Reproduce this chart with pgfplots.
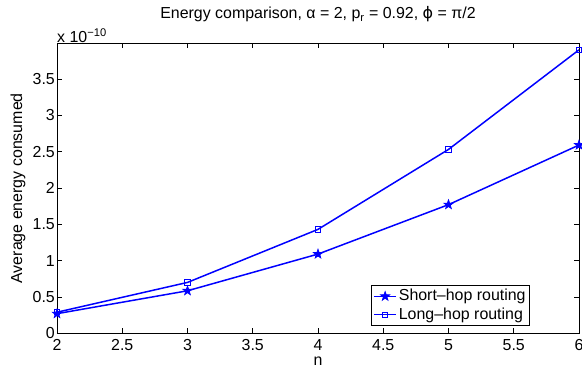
\documentclass[border=0pt]{standalone}
\usepackage{pgfplots}
\pgfplotsset{compat=1.18}
\usepackage{fontspec}
\setmainfont{Liberation Sans}
\newfontfamily\dejavu{DejaVu Sans}
\definecolor{mblue}{RGB}{0,0,255}
\pgfdeclareplotmark{fstar}{%
  \pgfpathmoveto{\pgfpointpolar{90}{\pgfplotmarksize}}%
  \pgfpathlineto{\pgfpointpolar{126}{0.4\pgfplotmarksize}}%
  \pgfpathlineto{\pgfpointpolar{162}{\pgfplotmarksize}}%
  \pgfpathlineto{\pgfpointpolar{198}{0.4\pgfplotmarksize}}%
  \pgfpathlineto{\pgfpointpolar{234}{\pgfplotmarksize}}%
  \pgfpathlineto{\pgfpointpolar{270}{0.4\pgfplotmarksize}}%
  \pgfpathlineto{\pgfpointpolar{306}{\pgfplotmarksize}}%
  \pgfpathlineto{\pgfpointpolar{342}{0.4\pgfplotmarksize}}%
  \pgfpathlineto{\pgfpointpolar{18}{\pgfplotmarksize}}%
  \pgfpathlineto{\pgfpointpolar{54}{0.4\pgfplotmarksize}}%
  \pgfpathclose
  \pgfusepathqfillstroke}
\begin{document}
\fontsize{16}{19}\selectfont
\begin{tikzpicture}
\begin{axis}[
  scale only axis,
  width=522bp, height=290bp,
  xmin=2, xmax=6, ymin=0, ymax=3.99,
  xtick={2,2.5,...,6}, ytick={0,0.5,...,3.5},
  scaled ticks=false,
  tick align=inside,
  major tick length=5bp,
  axis line style={line width=0.7pt},
  every tick/.style={black, line width=0.6pt},
  /pgf/number format/assume math mode=true,
  /pgf/number format/fixed,
  ticklabel style={font=\fontsize{16}{19}\selectfont},
  xticklabel style={inner sep=1bp, yshift=-5bp},
  yticklabel style={inner sep=2bp},
  xlabel={n},
  ylabel={Average energy consumed},
  label style={font=\fontsize{16}{19}\selectfont},
  xlabel style={at={(axis description cs:0.5,0)}, anchor=center, yshift=-28bp},
  ylabel style={at={(axis description cs:0,0.5)}, anchor=center, yshift=39bp},
  title={Energy comparison, α = 2, p\textsubscript{r} = 0.92, {\dejavu ϕ} = π/2},
  title style={font=\fontsize{16}{19}\selectfont, at={(axis description cs:0.5,1)}, anchor=center, yshift=23bp},
  legend style={at={(0.906,0.025)}, anchor=south east, draw=black, line width=0.7pt,
    font=\fontsize{16}{19}\selectfont, inner sep=2pt, row sep=0.5pt,
    cells={anchor=west}},
  legend cell align=left,
  legend image code/.code={\draw[mark repeat=2, mark phase=2] plot coordinates {(0bp,0bp) (11bp,0bp) (22bp,0bp)};},
]
\addplot[color=mblue, line width=1.5pt, mark=fstar, mark size=5pt, mark options={solid, line width=0.6pt, fill=mblue}]
  coordinates {(2,0.27) (3,0.585) (4,1.09) (5,1.77) (6,2.59)};
\addlegendentry{Short\textendash hop routing}
\addplot[color=mblue, line width=1.5pt, mark=square, mark size=2.7pt, mark options={solid, line width=1pt}]
  coordinates {(2,0.29) (3,0.70) (4,1.43) (5,2.53) (6,3.90)};
\addlegendentry{Long\textendash hop routing}
\end{axis}
\node[anchor=south west, inner sep=0pt] at ([yshift=0bp]current axis.north west) {x 10\textsuperscript{−10}};
\pgfresetboundingbox
\path ([xshift=-57bp,yshift=-35.7bp]current axis.south west) rectangle ([xshift=3bp,yshift=43.3bp]current axis.north east);
\end{tikzpicture}
\end{document}
